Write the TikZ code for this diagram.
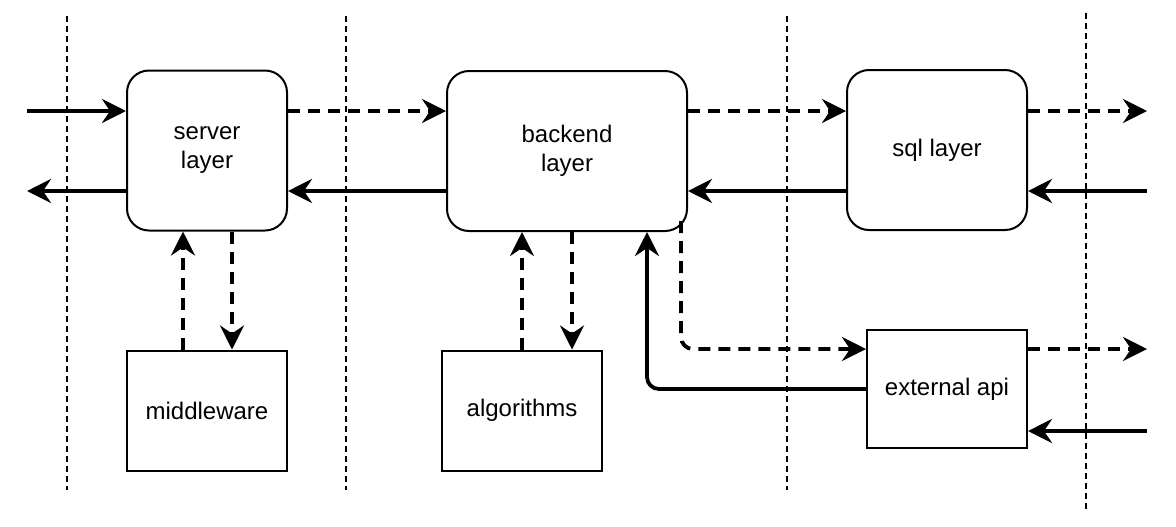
\documentclass[tikz,border=0pt]{standalone}
\usepackage{fontspec}
\setmainfont{Liberation Sans}
\usetikzlibrary{arrows.meta}

\tikzset{
  label font/.style={font=\fontsize{12}{14.5}\selectfont},
  layer/.style={draw, line width=1pt, rounded corners=11pt, align=center,
    inner sep=0pt, fill=white, label font},
  module/.style={draw, line width=1pt, align=center, inner sep=0pt,
    fill=white, label font},
  flow/.style={line width=1.9pt, -{Stealth[length=12pt,width=12pt,inset=4pt]}},
  call/.style={flow, dash pattern=on 6pt off 4pt},
  lane/.style={line width=0.7pt, dash pattern=on 3pt off 2pt}
}

\begin{document}
\begin{tikzpicture}[x=0.5pt, y=-0.5pt]
  \useasboundingbox (0,0) rectangle (1176,526);
  % lanes
  \draw[lane] (67,16) -- (67,490);
  \draw[lane] (346,16) -- (346,490);
  \draw[lane] (787,16) -- (787,490);
  \draw[lane] (1086,13) -- (1086,510);
  % layers and modules
  \node[layer, minimum width=80pt, minimum height=80pt] (server) at (207,150.5) {server\\layer};
  \node[layer, minimum width=120pt, minimum height=80pt] (backend) at (567,151) {backend\\layer};
  \node[layer, minimum width=90pt, minimum height=80pt] (sql) at (937,150) {sql layer};
  \node[module, minimum width=80pt, minimum height=60pt] (middleware) at (207,410.5) {middleware};
  \node[module, minimum width=80pt, minimum height=60pt] (algorithms) at (522,410.5) {algorithms};
  \node[module, minimum width=80pt, minimum height=59pt] (external) at (947,389) {external api};
  % rows and free ends
  \coordinate (rowA) at (0,111);
  \coordinate (rowB) at (0,191);
  \coordinate (inA) at (27,111);
  \coordinate (outB) at (27,191);
  \coordinate (outA) at (1147,111);
  \coordinate (inB) at (1147,191);
  \coordinate (outC) at (1147,349);
  \coordinate (inD) at (1147,431);
  % connectors
  \draw[flow] (inA) -- (inA -| server.west);
  \draw[flow] (server.west |- outB) -- (outB);
  \draw[call] (server.east |- rowA) -- (backend.west |- rowA);
  \draw[flow] (backend.west |- rowB) -- (server.east |- rowB);
  \draw[call] (backend.east |- rowA) -- (sql.west |- rowA);
  \draw[flow] (sql.west |- rowB) -- (backend.east |- rowB);
  \draw[call] (sql.east |- outA) -- (outA);
  \draw[flow] (inB) -- (inB -| sql.east);
  \draw[call] ([xshift=-12pt]middleware.north) -- ([xshift=-12pt]middleware.north |- server.south);
  \draw[call] ([xshift=12.5pt]server.south) -- ([xshift=12.5pt]server.south |- middleware.north);
  \draw[call] (algorithms.north) -- (algorithms.north |- backend.south);
  \draw[call] ([xshift=2.5pt]backend.south) -- ([xshift=2.5pt]backend.south |- algorithms.north);
  \draw[call, rounded corners=6pt] ([xshift=-3.5pt,yshift=5.5pt]backend.south east) |- (external.west |- outC);
  \draw[flow, rounded corners=6pt] (external.west) -| ([xshift=40pt]backend.south);
  \draw[call] (external.east |- outC) -- (outC);
  \draw[flow] (inD) -- (inD -| external.east);
\end{tikzpicture}
\end{document}
